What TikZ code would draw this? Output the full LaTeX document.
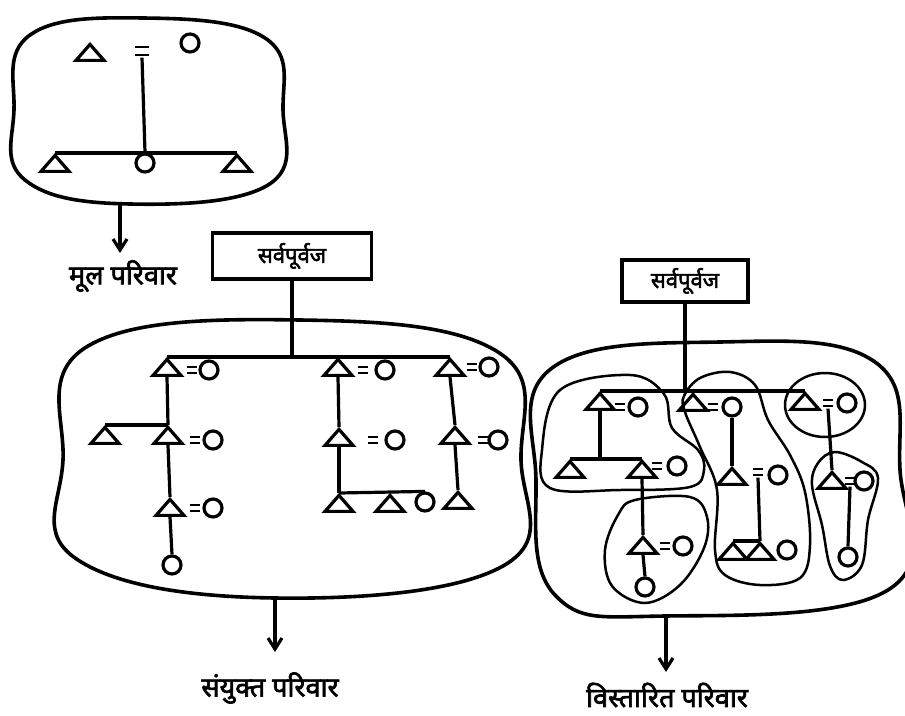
\documentclass[tikz,border=0pt]{standalone}
\usepackage{fontspec}
\newfontfamily\hindi[Script=Devanagari,FakeBold=2.5]{Noto Sans}
\usetikzlibrary{shapes.geometric,arrows.meta,positioning}
\begin{document}
\begin{tikzpicture}[x=1pt,y=-1pt,line width=3.2pt,
        mal/.style={draw, isosceles triangle, isosceles triangle apex angle=84, isosceles triangle stretches, shape border rotate=90, inner sep=0pt, minimum width=28pt, minimum height=16pt, anchor=apex},
        fem/.style={draw, circle, inner sep=0pt, minimum size=18pt},
        eq/.style={inner sep=0pt, minimum width=10pt, minimum height=8pt, path picture={\draw[line width=2.4pt] ([yshift=-1.2pt]path picture bounding box.north west) -- ([yshift=-1.2pt]path picture bounding box.north east) ([yshift=1.2pt]path picture bounding box.south west) -- ([yshift=1.2pt]path picture bounding box.south east);}},
        elder/.style={draw, rectangle, inner sep=3pt, font=\hindi\fontsize{22}{26}\selectfont},
        lbl/.style={font=\hindi\fontsize{27}{30}\selectfont},
        frame/.style={line width=3.6pt},
        ring/.style={line width=2.5pt},
        down/.style={-{Straight Barb[length=11pt,width=14pt]}, line width=3.2pt}]
    \useasboundingbox (0,0) rectangle (905,715);
    \draw[frame] plot[smooth cycle, tension=0.7] coordinates {(14,110) (30,35) (143,18) (265,38) (283,110) (268,185) (130,204) (25,180)};
    \node[mal] (bh) at (90,42) {};
    \node[eq, minimum width=14pt, minimum height=10pt] (be) at (142,51) {};
    \node[fem] (bw) at (190,43) {};
    \node[mal] (bs1) at (55,153) {};
    \node[fem] (bd) at (145,163) {};
    \node[mal] (bs2) at (237,153) {};
    \draw (be.south) -- (bd.north);
    \draw (bs1.apex) -- (bs2.apex);
    \coordinate (bo) at (120,204);
    \coordinate (ba) at (120,253);
    \draw[down] (bo) -- (ba);
    \node[lbl] (blab) at (123,276) {मूल परिवार};

    \node[elder, minimum width=159pt, minimum height=46pt] (sv1) at (292,256) {सर्वपूर्वज};
    \draw[frame] plot[smooth cycle, tension=0.7] coordinates {(63,460) (88,346) (300,320) (498,352) (521,460) (503,566) (275,598) (78,560)};
    \coordinate (j0) at (292,357);
    \draw (sv1.south) -- (j0);
    \node[mal] (ja) at (167,357) {};
    \node[eq] (jae) at (192,370) {};
    \node[fem] (jaw) at (209,370) {};
    \node[mal] (jb) at (105,425) {};
    \node[mal] (jc) at (168,425) {};
    \node[eq] (jce) at (195,440) {};
    \node[fem] (jcw) at (213,440) {};
    \node[mal] (jd) at (170,497) {};
    \node[eq] (jde) at (195,508) {};
    \node[fem] (jdw) at (213,508) {};
    \node[fem] (je) at (172,565) {};
    \node[mal] (jf) at (338,357) {};
    \node[eq] (jfe) at (363,370) {};
    \node[fem] (jfw) at (385,370) {};
    \node[mal] (jg) at (339,427) {};
    \node[eq] (jge) at (373,440) {};
    \node[fem] (jgw) at (395,440) {};
    \node[mal] (jh) at (339,493) {};
    \node[mal] (ji) at (390,493) {};
    \node[fem] (jj) at (425,502) {};
    \node[mal] (jk) at (450,357) {};
    \node[eq] (jke) at (472,367) {};
    \node[fem] (jkw) at (489,367) {};
    \node[mal] (jl) at (455,425) {};
    \node[eq] (jle) at (483,440) {};
    \node[fem] (jlw) at (498,440) {};
    \node[mal] (jm) at (458,490) {};
    \draw (ja.apex) -- (jk.apex);
    \draw (ja.south) -- (jc.apex);
    \draw (jb.apex) -- (jc.apex);
    \draw (jc.south) -- (jd.apex);
    \draw (jd.south) -- (je.north);
    \draw (jf.south) -- (jg.apex);
    \draw (jg.south) -- (jh.apex);
    \draw (jh.apex) -- (jj.north);
    \draw (jk.south) -- (jl.apex);
    \draw (jl.south) -- (jm.apex);
    \coordinate (jo) at (275,598);
    \coordinate (ja2) at (275,652);
    \draw[down] (jo) -- (ja2);
    \node[lbl] (jlab) at (270,688) {संयुक्त परिवार};

    \node[elder, minimum width=126pt, minimum height=42pt] (sv2) at (685,281) {सर्वपूर्वज};
    \draw[frame] plot[smooth cycle, tension=0.7] coordinates {(536,480) (552,368) (720,342) (875,362) (900,470) (888,590) (665,616) (555,595)};
    \coordinate (r0) at (685,391);
    \draw (sv2.south) -- (r0);
    \node[mal] (ra) at (600,391) {};
    \node[eq] (rae) at (620,407) {};
    \node[fem] (raw) at (638,407) {};
    \node[mal] (rb) at (570,459) {};
    \node[mal] (rc) at (642,459) {};
    \node[eq] (rce) at (657,466) {};
    \node[fem] (rcw) at (677,466) {};
    \node[mal] (rd) at (643,535) {};
    \node[eq] (rde) at (665,546) {};
    \node[fem] (rdw) at (683,546) {};
    \node[fem] (re) at (645,587) {};
    \node[mal] (rm) at (693,392) {};
    \node[eq] (rme) at (713,407) {};
    \node[fem] (rmw) at (732,407) {};
    \node[mal] (rn) at (732,466) {};
    \node[eq] (rne) at (758,472) {};
    \node[fem] (rnw) at (778,475) {};
    \node[mal] (rp) at (733,541) {};
    \node[mal] (rq) at (760,541) {};
    \node[fem] (rpc) at (787,550) {};
    \node[mal] (rr) at (805,391) {};
    \node[eq] (rre) at (828,403) {};
    \node[fem] (rrw) at (847,403) {};
    \node[mal] (rs) at (832,470) {};
    \node[eq] (rse) at (850,481) {};
    \node[fem] (rsw) at (864,481) {};
    \node[fem] (rt) at (848,557) {};
    \draw (ra.apex) -- (rr.apex);
    \draw (ra.south) -- (ra.south |- rb.apex);
    \draw (rb.apex) -- (rc.apex);
    \draw (rc.south) -- (rd.apex);
    \draw (rd.south) -- (re.north);
    \draw (rmw.south) -- (rn.apex);
    \draw (rne.south) -- (rq.apex);
    \draw (rp.apex) -- (rq.apex);
    \draw (rre.south) -- (rs.apex);
    \draw (rse.south) -- (rt.north);
    \draw[ring] plot[smooth cycle, tension=0.6] coordinates {(550,488) (542,450) (560,390) (630,375) (664,394) (672,428) (698,450) (704,470) (690,487) (620,490)};
    \draw[ring] plot[smooth cycle, tension=0.6] coordinates {(635,500) (690,497) (707,517) (704,548) (680,585) (645,603) (612,586) (605,550) (618,515)};
    \draw[ring] plot[smooth cycle, tension=0.6] coordinates {(684,396) (700,378) (730,372) (755,385) (768,420) (790,455) (805,492) (810,545) (800,578) (760,585) (725,575) (715,550) (717,490) (700,447) (685,412)};
    \draw[ring] (825,405) ellipse [x radius=40, y radius=32];
    \draw[ring] plot[smooth cycle, tension=0.6] coordinates {(835,452) (862,462) (878,478) (868,520) (862,565) (843,580) (830,566) (822,525) (812,485) (818,463)};
    \coordinate (ro) at (666,616);
    \coordinate (ra2) at (666,672);
    \draw[down] (ro) -- (ra2);
    \node[lbl] (rlab) at (667,695) {विस्तारित परिवार};
\end{tikzpicture}
\end{document}
